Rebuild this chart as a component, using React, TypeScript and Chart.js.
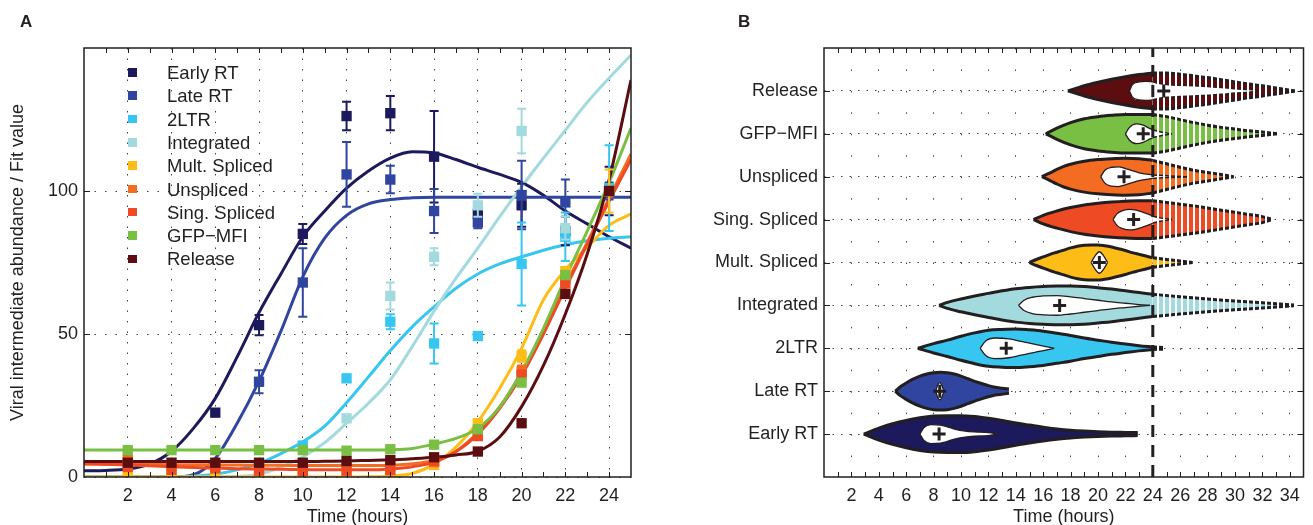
import React, { useEffect, useRef } from 'react';
import { Chart, registerables } from 'chart.js';

Chart.register(...registerables);

const FONT = '"Liberation Sans", Arial, Helvetica, sans-serif';
const INK = '#231f20';
const GRID = '#444444';

// ================= Panel A data =================
const SERIES_NAMES = ['Early RT', 'Late RT', '2LTR', 'Integrated', 'Mult. Spliced', 'Unspliced', 'Sing. Spliced', 'GFP\u2212MFI', 'Release'];
const SERIES_COLORS = ['#1c1a5c', '#2f459f', '#36c6f0', '#a3dadd', '#fdbd16', '#f36c21', '#ee4a24', '#78bf44', '#5b0d10'];

const FIT_HOURS = [0, 1, 2, 3, 4, 5, 6, 7, 8, 9, 10, 11, 12, 13, 14, 15, 16, 17, 18, 19, 20, 21, 22, 23, 24, 25];
const FIT_EARLY_RT = [2.2, 2.3, 2.8, 4.5, 9, 17, 27.5, 42, 57.5, 71, 84, 93, 101, 107, 111.5, 113.7, 113.3, 111, 108.3, 105.8, 103, 98.5, 93, 88.5, 84, 80];
const FIT_LATE_RT = [0, 0, 0, 0, 0, 0.8, 6.5, 18.8, 33.5, 51, 70, 83.5, 91.5, 95.5, 97, 97.6, 97.8, 97.8, 97.8, 97.8, 97.8, 97.8, 97.8, 97.8, 97.8, 97.8];
const FIT_2LTR = [0, 0, 0, 0, 0, 0.3, 1, 2.5, 4.8, 8.2, 12.3, 17.8, 26, 35, 44.2, 52.5, 59.5, 66, 71, 74.5, 77, 79.3, 81.2, 82.6, 83.5, 84];
const FIT_INTEGRATED = [0, 0, 0, 0, 0, 0, 0, 0.2, 1, 3.5, 7, 12, 18.8, 25.8, 34, 45.6, 58, 69.5, 80, 91, 101.5, 111.5, 121.3, 131, 139.5, 147.5];
const FIT_MULT = [0, 0, 0, 0, 0, 0, 0, 0, 0, 0, 0, 0, 0, 0.1, 0.3, 1.2, 4.5, 10.5, 19.3, 31, 45, 62, 72.4, 80.3, 88, 92];
const FIT_UNSPLICED = [4.5, 4.5, 4.4, 4.4, 4.3, 4.3, 4.2, 4.2, 4.1, 4.1, 4.0, 4.0, 4.0, 4.0, 4.1, 4.6, 5.8, 9, 15.5, 24.5, 36.5, 51, 67, 82, 97.5, 113];
const FIT_SING = [4.8, 4.5, 4.2, 3.9, 3.6, 3.3, 3.1, 2.9, 2.8, 2.7, 2.6, 2.5, 2.5, 2.5, 2.8, 3.6, 5.2, 8.8, 15, 24, 35.5, 50, 66, 81.5, 96.5, 111];
const FIT_GFP = [9.4, 9.4, 9.4, 9.4, 9.4, 9.4, 9.4, 9.4, 9.4, 9.4, 9.4, 9.4, 9.4, 9.4, 9.5, 10, 11.5, 13.5, 17, 24.5, 36.8, 52, 69.5, 86, 103, 122];
const FIT_RELEASE = [5.4, 5.4, 5.4, 5.4, 5.4, 5.4, 5.4, 5.4, 5.4, 5.4, 5.4, 5.5, 5.6, 5.8, 6, 6.4, 6.9, 7.7, 9, 14, 24.6, 39, 57, 78, 104, 138.8];

const PTS_EARLY_RT_X = [6, 8, 10, 12, 14, 16, 18, 20, 22, 24];
const PTS_EARLY_RT_Y = [22.5, 53.1, 85, 126.2, 127.2, 112, 92, 95, 86, 100];
const PTS_EARLY_RT_ERR = [0, 3.5, 3.5, 5, 6, 16, 2, 7.5, 5, 8.5];
const PTS_LATE_RT_X = [8, 10, 12, 14, 16, 18, 20, 22, 24];
const PTS_LATE_RT_Y = [33.3, 68, 105.8, 104, 93, 89, 98.6, 96, 100];
const PTS_LATE_RT_ERR = [4, 12, 11.3, 4.8, 7.7, 2, 12, 8, 3];
const PTS_2LTR_X = [10, 12, 14, 16, 18, 20, 22, 24];
const PTS_2LTR_Y = [11, 34.5, 54.3, 46.7, 49.3, 74.5, 84, 101];
const PTS_2LTR_ERR = [0, 0, 2.6, 7, 0, 14.5, 8.5, 15];
const PTS_INTEGRATED_X = [12, 14, 16, 18, 20, 22, 24];
const PTS_INTEGRATED_Y = [20.5, 63.3, 77, 95, 121, 87, 100];
const PTS_INTEGRATED_ERR = [0, 4.7, 3, 4, 7.8, 4, 0];
const PTS_LATE_X = [2, 4, 6, 8, 10, 12, 14, 16, 18, 20, 22, 24];
const PTS_MULT_Y = [0, 0, 0, 0, 0, 0, 0, 4.2, 18.8, 42.3, 72, 100];
const PTS_MULT_ERR = [0, 0, 0, 0, 0, 0, 0, 0, 0, 2, 0, 7.5];
const PTS_UNSPLICED_Y = [6.2, 3.8, 3.5, 3.2, 3.0, 3.5, 3.6, 5.2, 15.5, 37, 69, 100];
const PTS_UNSPLICED_ERR = [0, 0, 0, 0, 0, 0, 0, 0, 0, 2, 0, 0];
const PTS_SING_Y = [3.5, 2.5, 3.0, 2.2, 2.0, 2.2, 2.4, 5.7, 14.3, 35.7, 67.7, 100];
const PTS_SING_ERR = [0, 0, 0, 0, 0, 0, 0, 0, 0, 1.5, 0, 0];
const PTS_GFP_Y = [9.4, 9.4, 9.4, 9.4, 9.4, 9.2, 9.7, 11.3, 16.7, 33, 70.6, 100];
const PTS_RELEASE_Y = [5, 5, 5, 5, 5, 5.6, 5.9, 6.9, 8.9, 18.8, 64, 100];
const NO_ERR = [0, 0, 0, 0, 0, 0, 0, 0, 0, 0, 0, 0];

const A_X_TICKS = [2, 4, 6, 8, 10, 12, 14, 16, 18, 20, 22, 24];
const A_X_MINOR = [1, 2, 3, 4, 5, 6, 7, 8, 9, 10, 11, 12, 13, 14, 15, 16, 17, 18, 19, 20, 21, 22, 23, 24];
const A_Y_TICKS = [0, 50, 100];

// ================= Panel B data =================
const B_ROWS = ['Early RT', 'Late RT', '2LTR', 'Integrated', 'Mult. Spliced', 'Sing. Spliced', 'Unspliced', 'GFP\u2212MFI', 'Release'];
const B_X_TICKS = [2, 4, 6, 8, 10, 12, 14, 16, 18, 20, 22, 24, 26, 28, 30, 32, 34];
const B_X_MINOR = [1, 2, 3, 4, 5, 6, 7, 8, 9, 10, 11, 12, 13, 14, 15, 16, 17, 18, 19, 20, 21, 22, 23, 24, 25, 26, 27, 28, 29, 30, 31, 32, 33, 34];
const B_Y_TICKS = [1, 2, 3, 4, 5, 6, 7, 8, 9];
const CUTOFF_HOURS = 24;

const V_EARLY_RT_X = [2.9, 4, 5, 6, 7, 8, 9, 10, 11, 12, 13, 14, 15, 16, 17, 18, 19, 20, 21, 22, 22.9];
const V_EARLY_RT_W = [0, 0.14, 0.24, 0.32, 0.38, 0.42, 0.43, 0.43, 0.41, 0.37, 0.32, 0.26, 0.21, 0.16, 0.12, 0.09, 0.07, 0.055, 0.045, 0.04, 0.035];
const I_EARLY_RT_X = [7.0, 7.3, 7.8, 8.5, 9, 9.6, 10.3, 11, 12, 12.7];
const I_EARLY_RT_W = [0, 0.15, 0.22, 0.21, 0.17, 0.11, 0.07, 0.05, 0.035, 0];

const V_LATE_RT_X = [5.2, 5.6, 6, 6.5, 7, 7.5, 8, 8.5, 9, 9.5, 10, 10.5, 11, 11.5, 12, 12.5, 13, 13.5];
const V_LATE_RT_W = [0, 0.11, 0.19, 0.28, 0.35, 0.4, 0.43, 0.44, 0.43, 0.4, 0.35, 0.29, 0.23, 0.18, 0.13, 0.09, 0.07, 0.05];
const I_LATE_RT_X = [8.15, 8.3, 8.45, 8.6, 8.75];
const I_LATE_RT_W = [0, 0.14, 0.2, 0.14, 0];

const V_2LTR_X = [6.85, 8, 9, 10, 11, 12, 13, 14, 15, 16, 17, 18, 19, 20, 21, 22, 23, 24, 24.8];
const V_2LTR_W = [0, 0.11, 0.19, 0.28, 0.36, 0.42, 0.44, 0.45, 0.43, 0.4, 0.35, 0.3, 0.24, 0.19, 0.14, 0.1, 0.06, 0.03, 0.02];
const I_2LTR_X = [11.4, 11.8, 12.5, 13.5, 14.4, 15, 15.6, 16.2, 16.8];
const I_2LTR_W = [0, 0.17, 0.24, 0.22, 0.16, 0.12, 0.08, 0.04, 0];

const V_INTEGRATED_X = [8.4, 9, 10, 11, 12, 13, 14, 15, 16, 17, 18, 19, 20, 21, 22, 23, 24, 26, 28, 30, 32, 34.3];
const V_INTEGRATED_W = [0, 0.07, 0.15, 0.22, 0.28, 0.34, 0.39, 0.42, 0.44, 0.45, 0.45, 0.44, 0.41, 0.38, 0.34, 0.3, 0.26, 0.2, 0.15, 0.1, 0.06, 0.01];
const I_INTEGRATED_X = [14.2, 14.6, 15.2, 16, 17, 18, 19, 20, 21, 22, 23, 23.8];
const I_INTEGRATED_W = [0, 0.12, 0.19, 0.22, 0.23, 0.2, 0.16, 0.12, 0.08, 0.05, 0.02, 0];

const V_MULT_X = [15, 15.5, 16, 16.5, 17, 17.5, 18, 18.5, 19, 19.5, 20, 20.5, 21, 21.5, 22, 22.5, 23, 23.5, 24, 25, 26, 26.9];
const V_MULT_W = [0, 0.07, 0.13, 0.19, 0.24, 0.29, 0.34, 0.38, 0.4, 0.41, 0.41, 0.39, 0.36, 0.32, 0.28, 0.23, 0.19, 0.15, 0.11, 0.07, 0.035, 0];
const I_MULT_X = [19.5, 19.8, 20.1, 20.4, 20.7];
const I_MULT_W = [0, 0.16, 0.25, 0.16, 0];

const V_SING_X = [15.3, 16, 17, 18, 19, 20, 21, 22, 23, 24, 25, 26, 27, 28, 29, 30, 31, 32, 32.7];
const V_SING_W = [0, 0.1, 0.2, 0.28, 0.34, 0.38, 0.41, 0.43, 0.44, 0.44, 0.4, 0.36, 0.32, 0.27, 0.22, 0.17, 0.12, 0.07, 0];
const I_SING_X = [21.1, 21.4, 21.8, 22.3, 22.8, 23.3, 23.8, 24, 24.5, 25.4];
const I_SING_W = [0, 0.14, 0.21, 0.24, 0.22, 0.17, 0.11, 0.08, 0.04, 0];

const V_UNSPLICED_X = [15.9, 16.5, 17, 17.5, 18, 19, 20, 21, 22, 23, 24, 25, 26, 27, 28, 29, 29.9];
const V_UNSPLICED_W = [0, 0.09, 0.17, 0.24, 0.29, 0.36, 0.4, 0.42, 0.43, 0.42, 0.38, 0.3, 0.22, 0.15, 0.1, 0.05, 0];
const I_UNSPLICED_X = [20.2, 20.5, 21, 21.5, 22, 22.5, 23, 24, 25, 26.5];
const I_UNSPLICED_W = [0, 0.15, 0.22, 0.23, 0.19, 0.14, 0.09, 0.04, 0.02, 0];

const V_GFP_X = [16.2, 17, 18, 19, 20, 21, 22, 23, 24, 25, 26, 27, 28, 29, 30, 31, 32, 33.1];
const V_GFP_W = [0, 0.13, 0.26, 0.35, 0.4, 0.43, 0.45, 0.45, 0.45, 0.4, 0.33, 0.26, 0.2, 0.15, 0.11, 0.07, 0.04, 0];
const I_GFP_X = [22.0, 22.3, 22.8, 23.3, 23.8, 24, 24.5, 25.4];
const I_GFP_W = [0, 0.15, 0.23, 0.2, 0.12, 0.09, 0.05, 0];

const V_RELEASE_X = [17.8, 18.5, 19, 20, 21, 22, 23, 24, 25, 26, 27, 28, 29, 30, 31, 32, 33, 34.4];
const V_RELEASE_W = [0, 0.07, 0.12, 0.2, 0.27, 0.33, 0.38, 0.42, 0.42, 0.39, 0.35, 0.31, 0.26, 0.21, 0.16, 0.12, 0.07, 0];
const I_RELEASE_X = [22.3, 22.5, 23, 23.5, 24, 24.5, 25, 26, 27, 28, 29, 30, 31, 31.9];
const I_RELEASE_W = [0, 0.14, 0.21, 0.22, 0.21, 0.17, 0.15, 0.13, 0.12, 0.1, 0.08, 0.05, 0.03, 0];

const V_MEANS = [8.4, 8.45, 13.3, 17.2, 20.1, 22.6, 21.9, 23.3, 24.8];

// ================= helpers =================
function framePlugin(xTicks: number[], yTicks: number[]) {
  return {
    id: 'frame',
    afterDraw(chart: any) {
      const { ctx, chartArea: a, scales } = chart;
      const xs = scales.x;
      const ys = scales.y;
      ctx.save();
      ctx.strokeStyle = INK;
      ctx.lineWidth = 1.5;
      ctx.strokeRect(a.left, a.top, a.right - a.left, a.bottom - a.top);
      ctx.lineWidth = 1;
      ctx.beginPath();
      xTicks.forEach((v) => {
        const p = Math.round(xs.getPixelForValue(v)) + 0.5;
        ctx.moveTo(p, a.bottom);
        ctx.lineTo(p, a.bottom - 5);
        ctx.moveTo(p, a.top);
        ctx.lineTo(p, a.top + 5);
      });
      yTicks.forEach((v) => {
        const p = Math.round(ys.getPixelForValue(v)) + 0.5;
        ctx.moveTo(a.left, p);
        ctx.lineTo(a.left + 6, p);
        ctx.moveTo(a.right, p);
        ctx.lineTo(a.right - 6, p);
      });
      ctx.stroke();
      ctx.restore();
    },
  };
}

function errorBarPlugin(map: Record<number, { err: number[]; color: string }>) {
  return {
    id: 'errorBars',
    beforeDatasetDraw(chart: any, args: any) {
      const e = map[args.index];
      if (!e) return;
      const ds = chart.data.datasets[args.index];
      const xs = chart.scales.x;
      const ys = chart.scales.y;
      const ctx = chart.ctx;
      ctx.save();
      ctx.strokeStyle = e.color;
      ctx.lineWidth = 2;
      ds.data.forEach((p: any, k: number) => {
        const d = e.err[k];
        if (!d) return;
        const px = xs.getPixelForValue(p.x);
        const t = ys.getPixelForValue(p.y + d);
        const b = ys.getPixelForValue(p.y - d);
        ctx.beginPath();
        ctx.moveTo(px, t);
        ctx.lineTo(px, b);
        ctx.moveTo(px - 4.5, t);
        ctx.lineTo(px + 4.5, t);
        ctx.moveTo(px - 4.5, b);
        ctx.lineTo(px + 4.5, b);
        ctx.stroke();
      });
      ctx.restore();
    },
  };
}

function stripes(color: string, gap: string | null) {
  const c = document.createElement('canvas');
  c.width = 6;
  c.height = 4;
  const g = c.getContext('2d') as CanvasRenderingContext2D;
  if (gap) {
    g.fillStyle = gap;
    g.fillRect(0, 0, 6, 4);
  }
  g.fillStyle = color;
  g.fillRect(0, 0, 4, 4);
  return g.createPattern(c, 'repeat') as CanvasPattern;
}

const tickFont = { family: FONT, size: 18 };

export default function App() {
  const refA = useRef<HTMLCanvasElement | null>(null);
  const refB = useRef<HTMLCanvasElement | null>(null);

  useEffect(() => {
    Chart.defaults.font.family = FONT;
    Chart.defaults.color = INK;

    // ---------- Panel A ----------
    const series = [
      { fit: FIT_EARLY_RT, px: PTS_EARLY_RT_X, py: PTS_EARLY_RT_Y, err: PTS_EARLY_RT_ERR },
      { fit: FIT_LATE_RT, px: PTS_LATE_RT_X, py: PTS_LATE_RT_Y, err: PTS_LATE_RT_ERR },
      { fit: FIT_2LTR, px: PTS_2LTR_X, py: PTS_2LTR_Y, err: PTS_2LTR_ERR },
      { fit: FIT_INTEGRATED, px: PTS_INTEGRATED_X, py: PTS_INTEGRATED_Y, err: PTS_INTEGRATED_ERR },
      { fit: FIT_MULT, px: PTS_LATE_X, py: PTS_MULT_Y, err: PTS_MULT_ERR },
      { fit: FIT_UNSPLICED, px: PTS_LATE_X, py: PTS_UNSPLICED_Y, err: PTS_UNSPLICED_ERR },
      { fit: FIT_SING, px: PTS_LATE_X, py: PTS_SING_Y, err: PTS_SING_ERR },
      { fit: FIT_GFP, px: PTS_LATE_X, py: PTS_GFP_Y, err: NO_ERR },
      { fit: FIT_RELEASE, px: PTS_LATE_X, py: PTS_RELEASE_Y, err: NO_ERR },
    ];
    const dsA: any[] = [];
    const errMap: Record<number, { err: number[]; color: string }> = {};
    series.forEach((s, i) => {
      dsA.push({
        type: 'line',
        label: SERIES_NAMES[i] + ' fit',
        data: FIT_HOURS.map((h, k) => ({ x: h, y: s.fit[k] })),
        borderColor: SERIES_COLORS[i],
        borderWidth: 3,
        pointRadius: 0,
        fill: false,
        cubicInterpolationMode: 'monotone',
        order: 200 - i,
      });
    });
    series.forEach((s, i) => {
      errMap[dsA.length] = { err: s.err, color: SERIES_COLORS[i] };
      dsA.push({
        type: 'line',
        label: SERIES_NAMES[i],
        data: s.px.map((x, k) => ({ x, y: s.py[k] })),
        showLine: false,
        fill: false,
        pointStyle: 'rect',
        pointRadius: 7.3,
        pointBorderWidth: 0,
        pointBackgroundColor: SERIES_COLORS[i],
        backgroundColor: SERIES_COLORS[i],
        borderColor: SERIES_COLORS[i],
        order: 100 - i,
      });
    });

    const chartA = new Chart(refA.current as HTMLCanvasElement, {
      type: 'line',
      data: { datasets: dsA },
      plugins: [errorBarPlugin(errMap), framePlugin(A_X_MINOR, [50, 100])],
      options: {
        animation: false,
        responsive: false,
        events: [],
        layout: { padding: { left: 0, right: 24, top: 48, bottom: 0 } },
        plugins: { legend: { display: false }, tooltip: { enabled: false } },
        scales: {
          x: {
            type: 'linear',
            min: 0,
            max: 25,
            afterBuildTicks: (s: any) => {
              s.ticks = A_X_TICKS.map((v) => ({ value: v }));
            },
            afterFit: (s: any) => {
              s.height = 48;
            },
            grid: { color: GRID, lineWidth: 1, drawTicks: false },
            border: { display: false, dash: [1.5, 9] },
            ticks: { font: tickFont, color: INK, padding: 8, maxRotation: 0, autoSkip: false },
            title: { display: true, text: 'Time (hours)', font: { family: FONT, size: 18, lineHeight: 0.9 }, color: INK, padding: 0 },
          },
          y: {
            type: 'linear',
            min: 0,
            max: 150,
            afterBuildTicks: (s: any) => {
              s.ticks = A_Y_TICKS.map((v) => ({ value: v }));
            },
            afterFit: (s: any) => {
              s.width = 84;
            },
            grid: { color: GRID, lineWidth: 1, drawTicks: false },
            border: { display: false, dash: [1.5, 9] },
            ticks: { font: tickFont, color: INK, padding: 6 },
            title: {
              display: true,
              text: 'Viral intermediate abundance / Fit value',
              font: { family: FONT, size: 18 },
              color: INK,
              padding: { top: 7, bottom: 0 },
            },
          },
        },
      } as any,
    });

    // ---------- Panel B ----------
    const violins = [
      { vx: V_EARLY_RT_X, vw: V_EARLY_RT_W, ix: I_EARLY_RT_X, iw: I_EARLY_RT_W, color: SERIES_COLORS[0] },
      { vx: V_LATE_RT_X, vw: V_LATE_RT_W, ix: I_LATE_RT_X, iw: I_LATE_RT_W, color: SERIES_COLORS[1] },
      { vx: V_2LTR_X, vw: V_2LTR_W, ix: I_2LTR_X, iw: I_2LTR_W, color: SERIES_COLORS[2] },
      { vx: V_INTEGRATED_X, vw: V_INTEGRATED_W, ix: I_INTEGRATED_X, iw: I_INTEGRATED_W, color: SERIES_COLORS[3] },
      { vx: V_MULT_X, vw: V_MULT_W, ix: I_MULT_X, iw: I_MULT_W, color: SERIES_COLORS[4] },
      { vx: V_SING_X, vw: V_SING_W, ix: I_SING_X, iw: I_SING_W, color: SERIES_COLORS[6] },
      { vx: V_UNSPLICED_X, vw: V_UNSPLICED_W, ix: I_UNSPLICED_X, iw: I_UNSPLICED_W, color: SERIES_COLORS[5] },
      { vx: V_GFP_X, vw: V_GFP_W, ix: I_GFP_X, iw: I_GFP_W, color: SERIES_COLORS[7] },
      { vx: V_RELEASE_X, vw: V_RELEASE_W, ix: I_RELEASE_X, iw: I_RELEASE_W, color: SERIES_COLORS[8] },
    ];
    const inkStripes = stripes(INK, null);
    const dsB: any[] = [];
    dsB.push({
      type: 'line',
      label: 'cutoff',
      data: [
        { x: CUTOFF_HOURS, y: 0 },
        { x: CUTOFF_HOURS, y: 10 },
      ],
      borderColor: INK,
      borderWidth: 3,
      borderDash: [12, 8],
      pointRadius: 0,
      fill: false,
      order: 5,
    });
    dsB.push({
      type: 'line',
      label: 'means',
      data: V_MEANS.map((m, i) => ({ x: m, y: B_Y_TICKS[i] })),
      showLine: false,
      fill: false,
      pointStyle: 'cross',
      pointRadius: 6.5,
      pointBorderWidth: 3,
      pointBorderColor: INK,
      borderColor: INK,
      order: 10,
    });

    const addBand = (row: number, xs: number[], ws: number[], bg: any, stroke: any, width: number, order: number) => {
      if (xs.length < 2) return;
      const common = {
        type: 'line',
        pointRadius: 0,
        borderColor: stroke,
        borderWidth: width,
        cubicInterpolationMode: 'monotone',
        borderJoinStyle: 'round',
        order,
      };
      const li = dsB.length;
      dsB.push({ ...common, label: 'lo', data: xs.map((x, k) => ({ x, y: row - ws[k] })), fill: false });
      dsB.push({ ...common, label: 'hi', data: xs.map((x, k) => ({ x, y: row + ws[k] })), fill: { target: li }, backgroundColor: bg });
    };
    const part = (xs: number[], ws: number[], tail: boolean) => {
      const idx = xs.map((_, k) => k).filter((k) => (tail ? xs[k] >= CUTOFF_HOURS : xs[k] <= CUTOFF_HOURS));
      return { xs: idx.map((k) => xs[k]), ws: idx.map((k) => ws[k]) };
    };

    violins.forEach((v, i) => {
      const row = B_Y_TICKS[i];
      const so = part(v.vx, v.vw, false);
      const to = part(v.vx, v.vw, true);
      addBand(row, so.xs, so.ws, v.color, INK, 3, 40);
      addBand(row, to.xs, to.ws, stripes(v.color, '#ffffff'), inkStripes, 3, 40);
      const si = part(v.ix, v.iw, false);
      const ti = part(v.ix, v.iw, true);
      addBand(row, si.xs, si.ws, '#ffffff', INK, 1.3, 30);
      addBand(row, ti.xs, ti.ws, '#ffffff', inkStripes, 1.5, 30);
    });

    const chartB = new Chart(refB.current as HTMLCanvasElement, {
      type: 'line',
      data: { datasets: dsB },
      plugins: [framePlugin(B_X_MINOR, B_Y_TICKS)],
      options: {
        animation: false,
        responsive: false,
        events: [],
        layout: { padding: { left: 0, right: 4, top: 48, bottom: 0 } },
        plugins: { legend: { display: false }, tooltip: { enabled: false } },
        scales: {
          x: {
            type: 'linear',
            min: 0,
            max: 35,
            afterBuildTicks: (s: any) => {
              s.ticks = B_X_TICKS.map((v) => ({ value: v }));
            },
            afterFit: (s: any) => {
              s.height = 48;
            },
            grid: { color: GRID, lineWidth: 1, drawTicks: false },
            border: { display: false, dash: [1.5, 19.95] },
            ticks: { font: tickFont, color: INK, padding: 8, maxRotation: 0, autoSkip: false },
            title: { display: true, text: 'Time (hours)', font: { family: FONT, size: 18, lineHeight: 0.9 }, color: INK, padding: 0 },
          },
          y: {
            type: 'linear',
            min: 0,
            max: 10,
            afterBuildTicks: (s: any) => {
              s.ticks = B_Y_TICKS.map((v) => ({ value: v }));
            },
            afterFit: (s: any) => {
              s.width = 169;
            },
            grid: { color: GRID, lineWidth: 1, drawTicks: false },
            border: { display: false, dash: [1.5, 7] },
            ticks: {
              font: tickFont,
              color: INK,
              padding: 6,
              callback: (val: any) => B_ROWS[Math.round(val) - 1] ?? '',
            },
          },
        },
      } as any,
    });

    return () => {
      chartA.destroy();
      chartB.destroy();
    };
  }, []);

  return (
    <div
      style={{
        position: 'absolute',
        left: 0,
        top: 0,
        width: 1313,
        height: 525,
        background: '#ffffff',
        fontFamily: FONT,
        color: INK,
        overflow: 'hidden',
      }}
    >
      <canvas ref={refA} width={655} height={525} style={{ position: 'absolute', left: 0, top: 0 }} />
      <canvas ref={refB} width={658} height={525} style={{ position: 'absolute', left: 655, top: 0 }} />
      <div style={{ position: 'absolute', left: 20, top: 13, fontSize: 17, lineHeight: '17px', fontWeight: 700 }}>A</div>
      <div style={{ position: 'absolute', left: 738, top: 13, fontSize: 17, lineHeight: '17px', fontWeight: 700 }}>B</div>
      {SERIES_NAMES.map((n, i) => (
        <React.Fragment key={n}>
          <div
            style={{
              position: 'absolute',
              left: 128,
              top: 72.3 + i * 23.3 - 4.2,
              width: 8.5,
              height: 8.5,
              background: SERIES_COLORS[i],
            }}
          />
          <div
            style={{
              position: 'absolute',
              left: 167,
              top: 72.3 + i * 23.3 + 0.5 - 8.8,
              fontSize: 18.5,
              lineHeight: '18px',
              whiteSpace: 'nowrap',
            }}
          >
            {n}
          </div>
        </React.Fragment>
      ))}
    </div>
  );
}
